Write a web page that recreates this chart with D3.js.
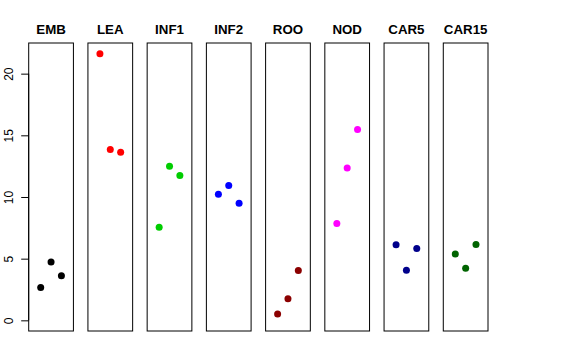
<!DOCTYPE html>
<html><head><meta charset="utf-8">
<script src="https://cdn.jsdelivr.net/npm/d3@7"></script>
<style>body{margin:0;background:#fff}svg{display:block}</style>
</head><body>
<script>
const categories = ["EMB","LEA","INF1","INF2","ROO","NOD","CAR5","CAR15"];
const colors = ["#000000","#FF0000","#00CD00","#0000FF","#8B0000","#FF00FF","#00008B","#006400"];
const rep1 = [2.67, 21.62, 7.55, 10.23, 0.51, 7.85, 6.12, 5.37];
const rep2 = [4.72, 13.85, 12.49, 10.93, 1.75, 12.36, 4.07, 4.23];
const rep3 = [3.61, 13.63, 11.74, 9.50, 4.05, 15.47, 5.83, 6.15];
const yTicks = [0, 5, 10, 15, 20];

(function () {
const W = 576, H = 360;
const svg = d3.select("body").append("svg").attr("width", W).attr("height", H);

const plotTop = 43, plotBottom = 331;
const band = d3.scaleBand().domain(categories).range([28.7, 488]).paddingInner(0.245).paddingOuter(0);
const all = rep1.concat(rep2, rep3);
const lo = 0, hi = d3.max(all), r = hi - lo;
const y = d3.scaleLinear().domain([lo - 0.04*r, hi + 0.04*r]).range([plotBottom, plotTop]);
const xin = d3.scaleLinear().domain([-0.16, 4.16]).range([0, band.bandwidth()]);

categories.forEach((c, i) => {
  const g = svg.append("g").attr("transform", `translate(${band(c)},0)`);
  g.append("rect").attr("x", 0).attr("y", plotTop).attr("width", band.bandwidth()).attr("height", plotBottom - plotTop)
    .attr("fill", "none").attr("stroke", "#000").attr("stroke-width", 1);
  g.append("text").attr("x", band.bandwidth()/2).attr("y", 34).attr("text-anchor", "middle")
    .attr("font-family", "Liberation Sans, Arial, sans-serif").attr("font-weight", "bold").attr("font-size", 13.3)
    .text(c);
  const vals = [rep1[i], rep2[i], rep3[i]];
  g.selectAll("circle").data(vals).enter().append("circle")
    .attr("cx", (d, j) => xin(j + 1)).attr("cy", d => y(d)).attr("r", 3.5).attr("fill", colors[i]);
});

const axis = d3.axisLeft(y).tickValues(yTicks).tickSize(7.5).tickPadding(0).tickFormat(d3.format("d"));
const ag = svg.append("g").attr("transform", `translate(${band(categories[0])},0)`).call(axis);
ag.select(".domain").remove();
ag.append("line").attr("x1", 0).attr("x2", 0).attr("y1", y(20)).attr("y2", y(0)).attr("stroke", "#000");
ag.selectAll(".tick line").attr("stroke", "#000");
ag.selectAll(".tick text").remove();
ag.selectAll(".tick").append("text")
  .attr("transform", "translate(-20,0) rotate(-90)")
  .attr("text-anchor", "middle").attr("dy", "0.35em")
  .attr("fill", "#000").attr("font-family", "Liberation Sans, Arial, sans-serif").attr("font-size", 12)
  .text(d => d);
})();
</script>
</body></html>
